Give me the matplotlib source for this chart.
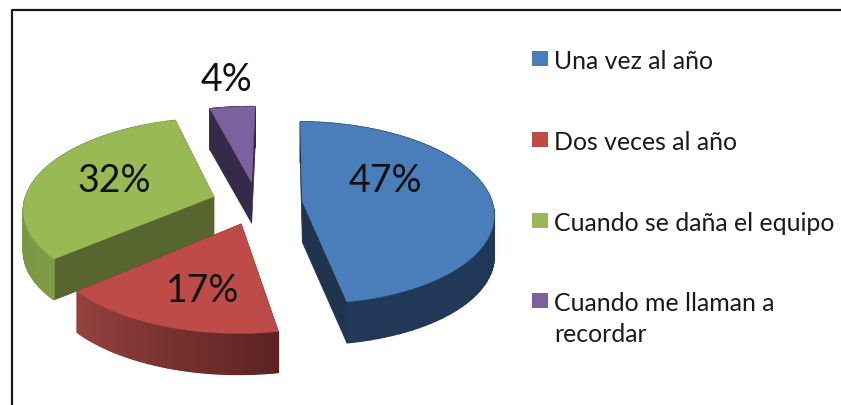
""" exploded 3d pie, frecuencia de mantenimiento """
import numpy as np
import matplotlib
matplotlib.use("Agg")
import matplotlib.pyplot as plt
from matplotlib.colors import to_rgb
from matplotlib.patches import Rectangle

categories = ["Una vez al año", "Dos veces al año", "Cuando se daña el equipo",
              "Cuando me llaman a\nrecordar"]
values = [46.9, 16.6, 32.1, 4.4]  # labels are rounded
pct_labels = ["47%", "17%", "32%", "4%"]

top_colors = ["#4a7ebb", "#be4b48", "#98b954", "#7d60a0"]
side_near = ["#1f3350", "#5c2322", "#7e9c46", "#352a4a"]
side_far = ["#22395a", "#964240", "#6f8a3c", "#352a4a"]
cut_colors = ["#20344f", "#5c2322", "#56662e", "#352a4a"]

# pie geometry in pixels
CX, CY = 257, 204
RX, RY = 190, 90
PERSP = 0.1257
EXPLODE = 0.24
DEPTH = 41
START = 1


def project(u, v):
    """ pie plane to picture, far side gets smaller """
    w = 1 + PERSP * v
    return CX + RX * u / w, CY - RY * v / w


def draw_wedge(ax, a0, a1, i):
    """ one exploded slice with its sides """
    mid = np.radians((a0 + a1) / 2)
    ou, ov = EXPLODE * np.sin(mid), EXPLODE * np.cos(mid)
    ang = np.radians(np.linspace(a0, a1, 80))
    xs, ys = project(ou + np.sin(ang), ov + np.cos(ang))
    ax_, ay_ = project(ou, ov)

    # cut faces
    for ex, ey in [(xs[0], ys[0]), (xs[-1], ys[-1])]:
        ax.fill([ax_, ex, ex, ax_], [ay_, ey, ey + DEPTH, ay_ + DEPTH],
                color=cut_colors[i], lw=0.5)

    # outer rim, shaded along the arc
    near, far = np.array(to_rgb(side_near[i])), np.array(to_rgb(side_far[i]))
    for j in range(len(ang) - 1):
        t = j / (len(ang) - 2)
        col = near + (far - near) * t
        ax.fill([xs[j], xs[j + 1], xs[j + 1], xs[j]],
                [ys[j], ys[j + 1], ys[j + 1] + DEPTH, ys[j] + DEPTH],
                color=col, lw=1.0)

    ax.fill(np.r_[ax_, xs], np.r_[ay_, ys], color=top_colors[i], lw=0.3)


def main():
    """ main """
    plt.rcParams["font.family"] = ["Lato", "DejaVu Sans"]
    fig = plt.figure(figsize=(8.41, 4.06), dpi=100)
    ax = fig.add_axes([0, 0, 1, 1])
    ax.set_xlim(0, 841)
    ax.set_ylim(406, 0)
    ax.axis("off")

    # frame
    ax.plot([12, 12, 841], [406, 11, 11], color="#1a1a1a", lw=1.6)

    edges = START + np.r_[0, np.cumsum(values)] * 360 / sum(values)
    # back to front
    for i in [3, 0, 2, 1]:
        draw_wedge(ax, edges[i], edges[i + 1], i)

    label_pos = [(385, 181), (203, 291), (114, 181), (227, 80)]
    for txt, (x, y) in zip(pct_labels, label_pos):
        ax.text(x, y, txt, fontsize=27, ha="center", va="center", color="#111111")

    legend_y = [59, 140, 221, 301]
    for i, y in enumerate(legend_y):
        ax.add_patch(Rectangle((532, y - 7.5), 16, 15, color=top_colors[i], lw=0))
        ax.text(554, y - 9, categories[i], fontsize=17.9, ha="left", va="top",
                color="#1a1a1a", linespacing=1.42)

    fig.savefig("out.png", dpi=100)


if __name__ == "__main__":
    main()
